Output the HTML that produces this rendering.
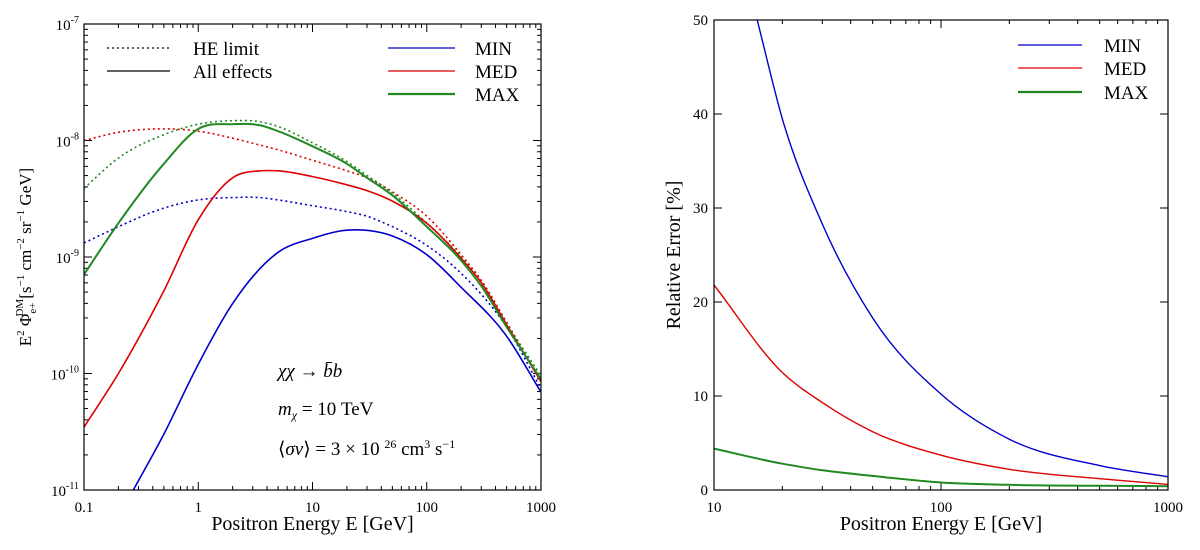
<!DOCTYPE html>
<html><head><meta charset="utf-8">
<style>
body{margin:0;background:#fff;}
svg{display:block;font-family:"Liberation Serif",serif;}
</style></head>
<body>
<svg id="fig" width="1200" height="550" viewBox="0 0 1200 550" xmlns="http://www.w3.org/2000/svg">
<g id="left"></g>
<g id="right"></g>
</svg>
<script>
// ---- Left chart data (E [GeV], log10 flux)
const leftEnergies = [0.1,0.2,0.5,1,2,3.5,5,10,20,30,50,100,200,300,500,1000];
const greenSolid = [-9.15,-8.71,-8.2,-7.9,-7.86,-7.87,-7.92,-8.05,-8.2,-8.32,-8.47,-8.74,-9.03,-9.25,-9.6,-10.05];
const greenDotted = [-8.41,-8.15,-7.95,-7.86,-7.83,-7.84,-7.88,-8.02,-8.18,-8.3,-8.45,-8.71,-9.0,-9.22,-9.57,-10.02];
const redDotted = [-8.0,-7.93,-7.9,-7.92,-7.98,-8.04,-8.08,-8.17,-8.26,-8.32,-8.44,-8.65,-8.98,-9.2,-9.56,-10.06];
const redSolid = [-10.46,-10.0,-9.29,-8.68,-8.32,-8.26,-8.26,-8.31,-8.38,-8.43,-8.52,-8.71,-9.01,-9.22,-9.58,-10.07];
const blueDotted = [-8.88,-8.74,-8.58,-8.51,-8.49,-8.49,-8.51,-8.56,-8.61,-8.65,-8.74,-8.9,-9.14,-9.32,-9.6,-10.13];
const blueSolidE = [0.27,0.5,1,2,5,10,20,50,100,200,500,1000];
const blueSolid = [-11.0,-10.52,-9.92,-9.4,-8.96,-8.84,-8.77,-8.82,-8.98,-9.26,-9.68,-10.16];
const leftXTicks = ["0.1","1","10","100","1000"];
const leftYTicks = [-11,-10,-9,-8,-7];
// ---- Right chart data
const rightEnergiesBlue = [15.5,20,30,50,100,200,500,1000];
const rightBlue = [50,39.5,28.3,18.3,10.2,5.4,2.6,1.4];
const rightEnergies = [10,20,30,50,100,200,500,1000];
const rightRed = [21.8,12.5,9.3,6.2,3.7,2.2,1.2,0.6];
const rightGreen = [4.4,2.8,2.1,1.5,0.8,0.55,0.45,0.4];
const rightXTicks = ["10","100","1000"];
const rightYTicks = [0,10,20,30,40,50];

const NS="http://www.w3.org/2000/svg";
function mk(parent,tag,attrs,text){const e=document.createElementNS(NS,tag);for(const k in attrs)e.setAttribute(k,attrs[k]);if(text!==undefined)e.textContent=text;parent.appendChild(e);return e;}
// Hermite spline with non-uniform-spacing-aware tangents
function smooth(pts){const n=pts.length;const m=[];
 for(let i=0;i<n;i++){if(i==0)m.push((pts[1][1]-pts[0][1])/(pts[1][0]-pts[0][0]));
  else if(i==n-1)m.push((pts[n-1][1]-pts[n-2][1])/(pts[n-1][0]-pts[n-2][0]));
  else{const s0=(pts[i][1]-pts[i-1][1])/(pts[i][0]-pts[i-1][0]),s1=(pts[i+1][1]-pts[i][1])/(pts[i+1][0]-pts[i][0]);
   const h0=pts[i][0]-pts[i-1][0],h1=pts[i+1][0]-pts[i][0];m.push((s0*h1+s1*h0)/(h0+h1));}}
 let d="M"+pts[0][0].toFixed(1)+","+pts[0][1].toFixed(1);
 for(let i=0;i<n-1;i++){const h=pts[i+1][0]-pts[i][0];
  const c1=[pts[i][0]+h/3,pts[i][1]+m[i]*h/3],c2=[pts[i+1][0]-h/3,pts[i+1][1]-m[i+1]*h/3];
  d+=" C"+c1[0].toFixed(1)+","+c1[1].toFixed(1)+" "+c2[0].toFixed(1)+","+c2[1].toFixed(1)+" "+pts[i+1][0].toFixed(1)+","+pts[i+1][1].toFixed(1);}
 return d;}

// ---- Left chart
const L=document.getElementById('left');
const lx0=84,lx1=541,ly0=24,ly1=490;
const lxs=e=>lx0+(Math.log10(e)+1)/4*(lx1-lx0);
const lys=v=>ly0+(-7-v)/4*(ly1-ly0);
const lclip=mk(L,'clipPath',{id:'lclip'});mk(lclip,'rect',{x:lx0,y:ly0,width:lx1-lx0,height:ly1-ly0});
for(let d=-1;d<3;d++)for(let m=1;m<10;m++){const x=lxs(m*Math.pow(10,d));const len=m==1?8:4;
 let t=mk(L,'line',{x1:x,y1:ly1,x2:x,y2:ly1-len,stroke:'#000'});
 t=mk(L,'line',{x1:x,y1:ly0,x2:x,y2:ly0+len,stroke:'#000'});}
for(let d=-11;d<-7;d++)for(let m=1;m<10;m++){const y=lys(d+Math.log10(m));const len=m==1?8:4;
 let t=mk(L,'line',{x1:lx0,y1:y,x2:lx0+len,y2:y,stroke:'#000'});
 t=mk(L,'line',{x1:lx1,y1:y,x2:lx1-len,y2:y,stroke:'#000'});}
leftXTicks.forEach(s=>{const t=mk(L,'text',{x:lxs(parseFloat(s)),y:ly1+22,'text-anchor':'middle','font-size':15},s);
 });
leftYTicks.forEach(v=>{const t=mk(L,'text',{x:lx0-5,y:lys(v)+6,'text-anchor':'end','font-size':15});
 
 mk(t,'tspan',{},'10');mk(t,'tspan',{dy:-7,'font-size':10},String(v));});
function lseries(E,V,color,dash,name,w){const p=mk(L,'path',{d:smooth(E.map((e,i)=>[lxs(e),lys(V[i])])),fill:'none',stroke:color,'stroke-width':w,'stroke-dasharray':dash?'2 3':'none','clip-path':'url(#lclip)'});
 }
lseries(leftEnergies,blueDotted,'#0000cc',true,'min-he-limit-line',1.6);
lseries(leftEnergies,redDotted,'#dd0000',true,'med-he-limit-line',1.6);
lseries(leftEnergies,greenDotted,'#228822',true,'max-he-limit-line',1.6);
lseries(blueSolidE,blueSolid,'#0000cc',false,'min-all-effects-line',1.6);
lseries(leftEnergies,redSolid,'#dd0000',false,'med-all-effects-line',1.6);
lseries(leftEnergies,greenSolid,'#228822',false,'max-all-effects-line',2);
mk(L,'rect',{x:lx0,y:ly0,width:lx1-lx0,height:ly1-ly0,fill:'none',stroke:'#000','stroke-width':1.2});
let t;
t=mk(L,'text',{x:(lx0+lx1)/2,y:530,'text-anchor':'middle','font-size':20},'Positron Energy E [GeV]');
t=mk(L,'text',{transform:'translate(31,257) rotate(-90)','text-anchor':'middle','font-size':17});
mk(t,'tspan',{},'E');mk(t,'tspan',{dy:-7,'font-size':11},'2');mk(t,'tspan',{dy:7},' Φ');mk(t,'tspan',{dy:5,'font-size':11},'e+');mk(t,'tspan',{dy:-13,'font-size':11,dx:-14},'DM');mk(t,'tspan',{dy:8},'[s');mk(t,'tspan',{dy:-7,'font-size':11},'−1');mk(t,'tspan',{dy:7},' cm');mk(t,'tspan',{dy:-7,'font-size':11},'−2');mk(t,'tspan',{dy:7},' sr');mk(t,'tspan',{dy:-7,'font-size':11},'−1');mk(t,'tspan',{dy:7},' GeV]');
const lg=mk(L,'g',{});
[['HE limit',48,true],['All effects',71,false]].forEach(([s,y,d])=>{mk(lg,'line',{x1:107,y1:y,x2:170,y2:y,stroke:'#000','stroke-width':1.2,'stroke-dasharray':d?'2 3':'none'});
 const tt=mk(lg,'text',{x:193,y:y+7,'font-size':19},s);});
[['MIN',48,'#0000cc',1.2],['MED',71,'#dd0000',1.2],['MAX',94,'#228822',2.2]].forEach(([s,y,c,w])=>{mk(lg,'line',{x1:388,y1:y,x2:455,y2:y,stroke:c,'stroke-width':w});
 const tt=mk(lg,'text',{x:475,y:y+7,'font-size':19},s);});
t=mk(L,'text',{x:278,y:377,'font-size':19});
mk(t,'tspan',{'font-style':'italic'},'χχ');mk(t,'tspan',{},' → ');mk(t,'tspan',{'font-style':'italic'},'b̄b');
t=mk(L,'text',{x:278,y:415,'font-size':19});
mk(t,'tspan',{'font-style':'italic'},'m');mk(t,'tspan',{dy:4,'font-size':12,'font-style':'italic'},'χ');mk(t,'tspan',{dy:-4},' = 10 TeV');
t=mk(L,'text',{x:278,y:455,'font-size':19});
mk(t,'tspan',{},'⟨');mk(t,'tspan',{'font-style':'italic'},'σv');mk(t,'tspan',{},'⟩ = 3 × 10  ');mk(t,'tspan',{dy:-7,'font-size':12},'26');mk(t,'tspan',{dy:7},' cm');mk(t,'tspan',{dy:-7,'font-size':12},'3');mk(t,'tspan',{dy:7},' s');mk(t,'tspan',{dy:-7,'font-size':12},'−1');

// ---- Right chart
const R=document.getElementById('right');
const rx0=714,rx1=1168,ry0=20,ry1=490;
const rxs=e=>rx0+(Math.log10(e)-1)/2*(rx1-rx0);
const rys=v=>ry1-v/50*(ry1-ry0);
const rclip=mk(R,'clipPath',{id:'rclip'});mk(rclip,'rect',{x:rx0,y:ry0,width:rx1-rx0,height:ry1-ry0});
for(let d=1;d<3;d++)for(let m=1;m<10;m++){const x=rxs(m*Math.pow(10,d));const len=m==1?8:4;
 let k=mk(R,'line',{x1:x,y1:ry1,x2:x,y2:ry1-len,stroke:'#000'});
 k=mk(R,'line',{x1:x,y1:ry0,x2:x,y2:ry0+len,stroke:'#000'});}
rightYTicks.forEach(v=>{const y=rys(v);
 let k=mk(R,'line',{x1:rx0,y1:y,x2:rx0+8,y2:y,stroke:'#000'});
 k=mk(R,'line',{x1:rx1,y1:y,x2:rx1-8,y2:y,stroke:'#000'});
 k=mk(R,'text',{x:rx0-6,y:y+5,'text-anchor':'end','font-size':15},String(v));});
rightXTicks.forEach(s=>{const k=mk(R,'text',{x:rxs(parseFloat(s)),y:ry1+22,'text-anchor':'middle','font-size':15},s);});
function rseries(E,V,color,name,w){const p=mk(R,'path',{d:smooth(E.map((e,i)=>[rxs(e),rys(V[i])])),fill:'none',stroke:color,'stroke-width':w,'clip-path':'url(#rclip)'});
 }
rseries(rightEnergiesBlue,rightBlue,'#0000cc','min-error-line',1.4);
rseries(rightEnergies,rightRed,'#dd0000','med-error-line',1.4);
rseries(rightEnergies,rightGreen,'#228822','max-error-line',2);
mk(R,'rect',{x:rx0,y:ry0,width:rx1-rx0,height:ry1-ry0,fill:'none',stroke:'#000','stroke-width':1.2});
t=mk(R,'text',{x:(rx0+rx1)/2,y:530,'text-anchor':'middle','font-size':20},'Positron Energy E [GeV]');
t=mk(R,'text',{transform:'translate(680,255) rotate(-90)','text-anchor':'middle','font-size':20},'Relative Error [%]');
const rg=mk(R,'g',{});
[['MIN',45,'#0000cc',1.2],['MED',68,'#dd0000',1.2],['MAX',92,'#228822',2.2]].forEach(([s,y,c,w])=>{mk(rg,'line',{x1:1018,y1:y,x2:1082,y2:y,stroke:c,'stroke-width':w});
 const tt=mk(rg,'text',{x:1104,y:y+7,'font-size':19},s);});
</script>
</body></html>
